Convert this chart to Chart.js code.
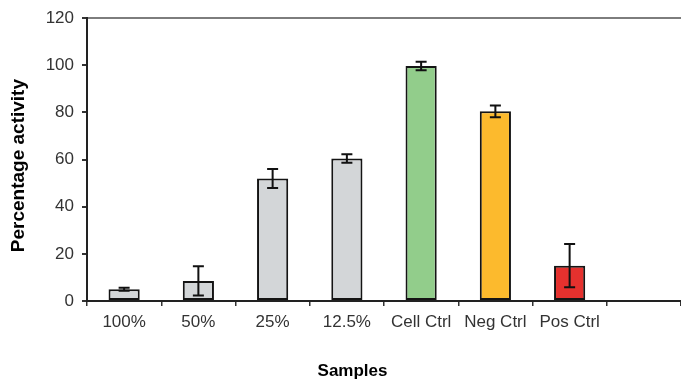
<!DOCTYPE html>
<html>
<head>
<meta charset="utf-8">
<script src="https://cdn.jsdelivr.net/npm/chart.js@4/dist/chart.umd.min.js"></script>
<style>
  html, body { margin: 0; padding: 0; background: #ffffff; }
  #wrap { width: 681px; height: 382px; position: relative; }
</style>
</head>
<body>
<div id="wrap"><canvas id="chart" width="681" height="382"></canvas></div>
<script>
// Sample groups along the x axis (last slot left empty)
const categories = ['100%', '50%', '25%', '12.5%', 'Cell Ctrl', 'Neg Ctrl', 'Pos Ctrl', ''];
// Mean percentage activity per sample
const activity = [5, 8.5, 52, 60.5, 99.7, 80.5, 15, null];
// Error (± deviation) per sample
const deviation = [0.6, 6.2, 4, 1.8, 1.8, 2.5, 9.2, null];
// Bar fill colours
const barColours = ['#d3d6d8', '#d3d6d8', '#d3d6d8', '#d3d6d8', '#92cd8b', '#fcba2d', '#e5312e', '#ffffff'];
// Y axis ticks
const yTicks = { min: 0, max: 120, step: 20 };

const FONT = '"Liberation Sans", Arial, sans-serif';

// Error bars with caps, positioned through the chart's own scales
const errorBars = {
  id: 'errorBars',
  afterDatasetsDraw(chart) {
    const ctx = chart.ctx;
    const meta = chart.getDatasetMeta(0);
    const y = chart.scales.y;
    ctx.save();
    ctx.strokeStyle = '#111111';
    ctx.lineWidth = 2;
    meta.data.forEach((bar, i) => {
      const v = activity[i], e = deviation[i];
      if (v == null || e == null) return;
      const x = bar.x;
      const yTop = y.getPixelForValue(v + e);
      const yBot = y.getPixelForValue(v - e);
      const cap = 5.5;
      ctx.beginPath();
      ctx.moveTo(x, yTop); ctx.lineTo(x, yBot);
      ctx.moveTo(x - cap, yTop); ctx.lineTo(x + cap, yTop);
      ctx.moveTo(x - cap, yBot); ctx.lineTo(x + cap, yBot);
      ctx.stroke();
    });
    ctx.restore();
  }
};

// Axis titles
const axisTitles = {
  id: 'axisTitles',
  afterDraw(chart) {
    const ctx = chart.ctx;
    const area = chart.chartArea;
    ctx.save();
    ctx.fillStyle = '#000000';
    ctx.textAlign = 'center';
    ctx.textBaseline = 'middle';
    ctx.font = 'bold 17px ' + FONT;
    ctx.fillText('Samples', area.left + (area.right - area.left) * 0.447, 371);
    ctx.translate(19, (area.top + area.bottom) / 2 + 6);
    ctx.rotate(-Math.PI / 2);
    ctx.font = 'bold 19px ' + FONT;
    ctx.fillText('Percentage activity', 0, 0);
    ctx.restore();
  }
};

new Chart(document.getElementById('chart'), {
  type: 'bar',
  data: {
    labels: categories,
    datasets: [{
      data: activity,
      backgroundColor: barColours,
      borderColor: '#141414',
      borderWidth: 2,
      borderSkipped: false,
      categoryPercentage: 1,
      barPercentage: 0.42
    }]
  },
  options: {
    responsive: false,
    animation: false,
    devicePixelRatio: 1,
    layout: { padding: { top: 18, right: 0, left: 0, bottom: 0 } },
    plugins: {
      legend: { display: false },
      tooltip: { enabled: false },
      title: { display: false }
    },
    scales: {
      x: {
        offset: true,
        grid: {
          offset: true,
          drawOnChartArea: false,
          drawTicks: true,
          tickLength: 5,
          color: '#333333',
          lineWidth: 1.5
        },
        border: { display: true, color: '#222222', width: 2 },
        ticks: {
          color: '#333333',
          font: { family: FONT, size: 17 },
          padding: 6,
          maxRotation: 0,
          autoSkip: false
        },
        afterFit(scale) { scale.height = 81; }
      },
      y: {
        min: yTicks.min,
        max: yTicks.max,
        ticks: {
          stepSize: yTicks.step,
          color: '#333333',
          font: { family: FONT, size: 17 },
          padding: 8
        },
        grid: {
          drawTicks: true,
          tickLength: 5,
          color: (c) => (c.tick && c.tick.value === yTicks.max) ? '#7d7d7d' : 'rgba(0,0,0,0)',
          tickColor: '#333333',
          lineWidth: 2
        },
        border: { display: true, color: '#222222', width: 2 },
        afterFit(scale) { scale.width = 87; }
      }
    }
  },
  plugins: [errorBars, axisTitles]
});
</script>
</body>
</html>
